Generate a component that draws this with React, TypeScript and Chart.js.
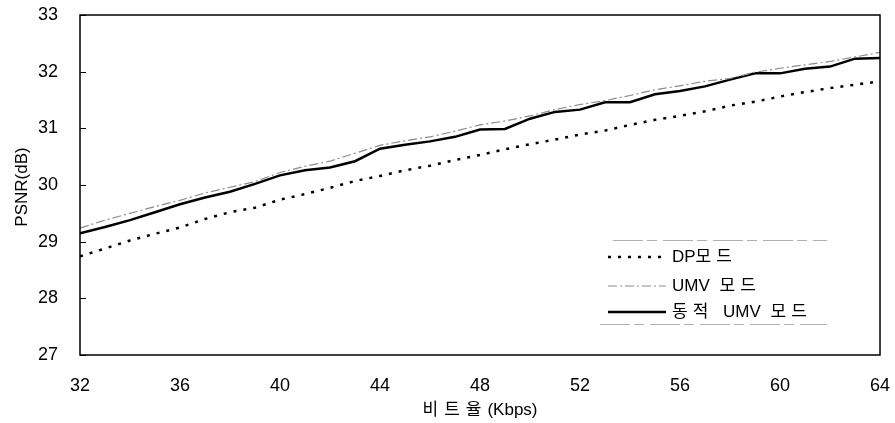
import React, { useEffect, useRef } from "react";
import { Chart, registerables } from "chart.js";

Chart.register(...registerables);

const kbps = [32,33,34,35,36,37,38,39,40,41,42,43,44,45,46,47,48,49,50,51,52,53,54,55,56,57,58,59,60,61,62,63,64];

const dpMode = [28.74,28.88,29.02,29.14,29.25,29.40,29.52,29.60,29.74,29.84,29.95,30.07,30.16,30.26,30.34,30.44,30.53,30.63,30.72,30.80,30.89,30.96,31.06,31.15,31.22,31.30,31.40,31.47,31.56,31.64,31.71,31.77,31.83];

const umvMode = [29.24,29.38,29.50,29.62,29.73,29.86,29.96,30.06,30.22,30.33,30.42,30.56,30.70,30.78,30.85,30.95,31.06,31.13,31.22,31.33,31.42,31.49,31.58,31.68,31.75,31.83,31.88,31.99,32.06,32.12,32.18,32.26,32.34];

const dynUmvMode = [29.15,29.26,29.38,29.52,29.66,29.78,29.88,30.02,30.17,30.26,30.31,30.42,30.64,30.71,30.77,30.85,30.98,30.99,31.17,31.29,31.33,31.46,31.46,31.60,31.66,31.74,31.86,31.97,31.97,32.05,32.09,32.23,32.24];

const seriesNames = ["DP모드", "UMV 모드", "동적 UMV 모드"];
const xTitle = "비트율(Kbps)";
const yTitle = "PSNR(dB)";

const FONT = "'Liberation Sans', Arial, sans-serif";
const KFONT = "'Liberation Sans', 'Noto Sans CJK KR', sans-serif";

// draw text where Hangul runs get extra letter spacing
function runs(text: string) {
  const out: { s: string; k: boolean }[] = [];
  for (const ch of text) {
    const k = /[\uAC00-\uD7A3 ]/.test(ch);
    if (out.length && out[out.length - 1].k === k) out[out.length - 1].s += ch;
    else out.push({ s: ch, k });
  }
  return out;
}
function drawMixed(ctx: any, text: string, x: number, y: number, kSp: number, center: boolean) {
  const rs = runs(text);
  const widths = rs.map((r) => {
    ctx.letterSpacing = r.k ? kSp + "px" : "0px";
    return ctx.measureText(r.s).width;
  });
  const total = widths.reduce((a, b) => a + b, 0);
  let cx = center ? x - total / 2 : x;
  ctx.textAlign = "left";
  rs.forEach((r, i) => {
    ctx.letterSpacing = r.k ? kSp + "px" : "0px";
    ctx.fillText(r.s, cx, y);
    cx += widths[i];
  });
  ctx.letterSpacing = "0px";
}

const decorPlugin = {
  id: "decor",
  afterDatasetsDraw(chart: any) {
    const { ctx, chartArea, scales } = chart;
    const { left, right, top, bottom } = chartArea;
    ctx.save();
    // frame
    ctx.strokeStyle = "#000";
    ctx.lineWidth = 1.5;
    ctx.setLineDash([]);
    ctx.strokeRect(left, top, right - left, bottom - top);
    // inward y ticks
    const ys = scales.y;
    ctx.lineWidth = 1;
    ys.ticks.forEach((t: any) => {
      const py = Math.round(ys.getPixelForValue(t.value)) + 0.5;
      ctx.beginPath();
      ctx.moveTo(left, py);
      ctx.lineTo(left + 6, py);
      ctx.stroke();
    });
    // axis titles
    ctx.fillStyle = "#000";
    ctx.font = "17px " + KFONT;
    ctx.textBaseline = "middle";
    drawMixed(ctx, xTitle, (left + right) / 2, 410, 6, true);
    ctx.save();
    ctx.translate(22, 187);
    ctx.rotate(-Math.PI / 2);
    ctx.textAlign = "center";
    ctx.fillText(yTitle, 0, 0);
    ctx.restore();

    // legend
    const lx0 = 608, lx1 = 666, tx = 672;
    const rows = [257, 286, 312];
    ctx.strokeStyle = "#b0b0b0";
    ctx.lineWidth = 1;
    ctx.setLineDash([30, 4, 10, 6]);
    ctx.beginPath();
    ctx.moveTo(613, 240.5);
    ctx.lineTo(827, 240.5);
    ctx.moveTo(600, 324.5);
    ctx.lineTo(827, 324.5);
    ctx.stroke();
    chart.data.datasets.forEach((ds: any, i: number) => {
      ctx.strokeStyle = ds.borderColor;
      ctx.lineWidth = ds.borderWidth;
      ctx.setLineDash(ds.borderDash || []);
      ctx.beginPath();
      ctx.moveTo(lx0, rows[i]);
      ctx.lineTo(lx1, rows[i]);
      ctx.stroke();
      ctx.setLineDash([]);
      ctx.fillStyle = "#000";
      ctx.font = "17px " + KFONT;
      ctx.textBaseline = "middle";
      drawMixed(ctx, ds.label, tx, rows[i], 5, false);
    });
    ctx.restore();
  },
};

export default function App() {
  const ref = useRef<HTMLCanvasElement | null>(null);
  useEffect(() => {
    if (!ref.current) return;
    const mk = (arr: number[]) => kbps.map((x, i) => ({ x, y: arr[i] }));
    const chart = new Chart(ref.current, {
      type: "line",
      data: {
        datasets: [
          {
            label: seriesNames[0],
            data: mk(dpMode),
            borderColor: "#000",
            borderWidth: 2.5,
            borderDash: [3, 7],
            pointRadius: 0,
            fill: false,
            tension: 0,
          },
          {
            label: seriesNames[1],
            data: mk(umvMode),
            borderColor: "#8c8c8c",
            borderWidth: 1.2,
            borderDash: [9, 3, 2, 3],
            pointRadius: 0,
            fill: false,
            tension: 0,
          },
          {
            label: seriesNames[2],
            data: mk(dynUmvMode),
            borderColor: "#000",
            borderWidth: 2.5,
            pointRadius: 0,
            fill: false,
            tension: 0,
          },
        ],
      },
      options: {
        animation: false,
        responsive: true,
        maintainAspectRatio: false,
        layout: { padding: { left: 0, top: 15, right: 15, bottom: 0 } },
        plugins: { legend: { display: false }, tooltip: { enabled: false } },
        scales: {
          x: {
            type: "linear",
            min: 32,
            max: 64,
            border: { display: false },
            grid: { display: false, drawTicks: false },
            ticks: {
              stepSize: 4,
              color: "#000",
              font: { family: FONT, size: 18 },
              padding: 20,
              maxRotation: 0,
            },
            afterFit: (s: any) => {
              s.height = 68;
              s.paddingLeft = 0;
              s.paddingRight = 0;
            },
          },
          y: {
            min: 27,
            max: 33,
            border: { display: false },
            grid: { display: false, drawTicks: false },
            ticks: {
              stepSize: 1,
              color: "#000",
              font: { family: FONT, size: 18 },
              padding: 22,
            },
            afterFit: (s: any) => {
              s.width = 80;
              s.paddingTop = 0;
              s.paddingBottom = 0;
            },
          },
        },
      },
      plugins: [decorPlugin],
    });
    return () => chart.destroy();
  }, []);
  return (
    <div style={{ position: "fixed", left: 0, top: 0, width: 895, height: 423, background: "#fff" }}>
      <canvas ref={ref} />
    </div>
  );
}
